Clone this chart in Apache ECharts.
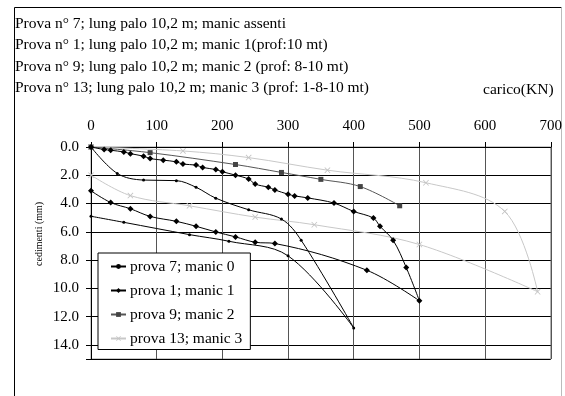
<!DOCTYPE html>
<html>
<head>
<meta charset="utf-8">
<script src="https://cdn.jsdelivr.net/npm/echarts@6/dist/echarts.min.js"></script>
<style>
  html, body { margin: 0; padding: 0; background: #fff; }
  #chart { width: 565px; height: 396px; }
</style>
</head>
<body>
<div id="chart"></div>
<script>
// load (KN) / settlement (mm)
var prova7Load = [0, 40, 80, 130, 160, 190, 240, 290, 320, 400, 300, 210, 150, 50, 0]
var prova7Sett = [0, 1.87, 2.34, 2.38, 2.85, 3.62, 4.44, 5.1, 6.6, 12.8, 7.7, 6.67, 6.2, 5.33, 4.9]

var prova1Load = [0, 20, 30, 50, 60, 80, 90, 110, 130, 140, 160, 170, 190, 200, 220, 240, 250, 270, 280, 300, 310, 330, 370, 400, 430, 440, 460, 480, 500,
  420, 280, 250, 220, 190, 160, 130, 90, 60, 30, 0]
var prova1Sett = [0, 0.18, 0.23, 0.35, 0.47, 0.65, 0.82, 0.93, 1.05, 1.21, 1.28, 1.45, 1.59, 1.75, 1.99, 2.27, 2.62, 2.85, 3.04, 3.34, 3.46, 3.6, 3.97, 4.56, 5.03, 5.61, 6.6, 8.53, 10.88,
  8.72, 6.83, 6.74, 6.36, 6.01, 5.61, 5.26, 4.91, 4.37, 3.93, 3.1]

var prova9Load = [0, 90, 220, 290, 350, 410, 470]
var prova9Sett = [0, 0.4, 1.24, 1.8, 2.29, 2.8, 4.16]

var prova13Load = [0, 140, 240, 360, 510, 630, 680, 500, 340, 250, 150, 60, 0]
var prova13Sett = [0, 0.28, 0.75, 1.64, 2.53, 4.56, 10.24, 6.9, 5.5, 4.96, 4.16, 3.44, 1.99]

var seriesNames = ['prova 7; manic 0', 'prova 1; manic 1', 'prova 9; manic 2', 'prova 13; manic 3']
var titleLines = [
  'Prova n° 7; lung palo 10,2 m; manic assenti',
  'Prova n° 1; lung palo 10,2 m; manic 1(prof:10 mt)',
  'Prova n° 9; lung palo 10,2 m; manic 2 (prof: 8-10 mt)',
  'Prova n° 13; lung palo 10,2 m; manic 3 (prof: 1-8-10 mt)'
]

function pairs(xs, ys) {
  return xs.map(function (x, i) { return [x, ys[i]] })
}

var FONT = '"Liberation Serif", "Times New Roman", serif'
var crossPath = 'path://M0,1L1,0L5,4L9,0L10,1L6,5L10,9L9,10L5,6L1,10L0,9L4,5Z'

var chart = echarts.init(document.getElementById('chart'))

chart.setOption({
  animation: false,
  textStyle: { fontFamily: FONT },
  title: {
    text: titleLines.join('\n'),
    left: 15,
    top: 13,
    padding: 0,
    textStyle: {
      fontFamily: FONT,
      fontSize: 15.5,
      fontWeight: 'normal',
      color: '#000',
      lineHeight: 21.4
    }
  },
  graphic: [
    { type: 'line', shape: { x1: 14.5, y1: 7.5, x2: 561.5, y2: 7.5 }, style: { stroke: '#000', lineWidth: 1 } },
    { type: 'line', shape: { x1: 14.5, y1: 7.5, x2: 14.5, y2: 396 }, style: { stroke: '#000', lineWidth: 1 } },
    { type: 'line', shape: { x1: 561.5, y1: 7.5, x2: 561.5, y2: 396 }, style: { stroke: '#bbb', lineWidth: 1 } },
    {
      type: 'text', left: 483, top: 82,
      style: { text: 'carico(KN)', font: '15.5px ' + FONT, fill: '#000' }
    },
    {
      type: 'text', x: 34, y: 266, rotation: Math.PI / 2,
      style: { text: 'cedimenti (mm)', font: '10px ' + FONT, fill: '#000' }
    }
  ],
  legend: {
    orient: 'vertical',
    left: 98,
    top: 253,
    padding: [5.5, 8, 3, 12],
    itemWidth: 15,
    itemHeight: 6,
    itemGap: 8,
    backgroundColor: '#fff',
    borderColor: '#000',
    borderWidth: 1,
    borderRadius: 0,
    data: seriesNames,
    textStyle: { fontFamily: FONT, fontSize: 15.5, color: '#000', padding: [0, 0, 0, -1] }
  },
  grid: {
    left: 91,
    right: 13,
    top: 147,
    bottom: 37,
    show: true,
    borderColor: '#999',
    borderWidth: 1
  },
  xAxis: {
    type: 'value',
    position: 'top',
    min: 0,
    max: 700,
    interval: 100,
    axisLine: { show: true, lineStyle: { color: '#000', width: 1 } },
    axisTick: { show: true, length: 5, lineStyle: { color: '#000' } },
    axisLabel: { fontFamily: FONT, fontSize: 15, color: '#000', margin: 13 },
    splitLine: { show: true, lineStyle: { color: '#555', width: 1 } }
  },
  yAxis: {
    type: 'value',
    inverse: true,
    min: 0,
    max: 15,
    interval: 2,
    axisLine: { show: true, lineStyle: { color: '#000', width: 1 } },
    axisTick: { show: true, length: 5, lineStyle: { color: '#000' } },
    axisLabel: {
      fontFamily: FONT, fontSize: 15, color: '#000', margin: 12,
      formatter: function (v) { return v > 14 ? '' : v.toFixed(1) }
    },
    splitLine: { show: true, lineStyle: { color: '#000', width: 1 } }
  },
  series: [
    {
      name: seriesNames[0], type: 'line', smooth: 0.35,
      data: pairs(prova7Load, prova7Sett),
      symbol: 'circle', symbolSize: 3,
      itemStyle: { color: '#000' },
      lineStyle: { color: '#000', width: 1 },
      z: 4
    },
    {
      name: seriesNames[1], type: 'line', smooth: 0.35,
      data: pairs(prova1Load, prova1Sett),
      symbol: 'diamond', symbolSize: 6,
      itemStyle: { color: '#000' },
      lineStyle: { color: '#000', width: 1 },
      z: 4
    },
    {
      name: seriesNames[2], type: 'line', smooth: 0.35,
      data: pairs(prova9Load, prova9Sett),
      symbol: 'rect', symbolSize: 5,
      itemStyle: { color: '#444' },
      lineStyle: { color: '#555', width: 1 },
      z: 3
    },
    {
      name: seriesNames[3], type: 'line', smooth: 0.35,
      data: pairs(prova13Load, prova13Sett),
      symbol: crossPath, symbolSize: 6,
      itemStyle: { color: '#c4c4c4' },
      lineStyle: { color: '#c8c8c8', width: 1 },
      z: 2
    }
  ]
})
</script>
</body>
</html>
